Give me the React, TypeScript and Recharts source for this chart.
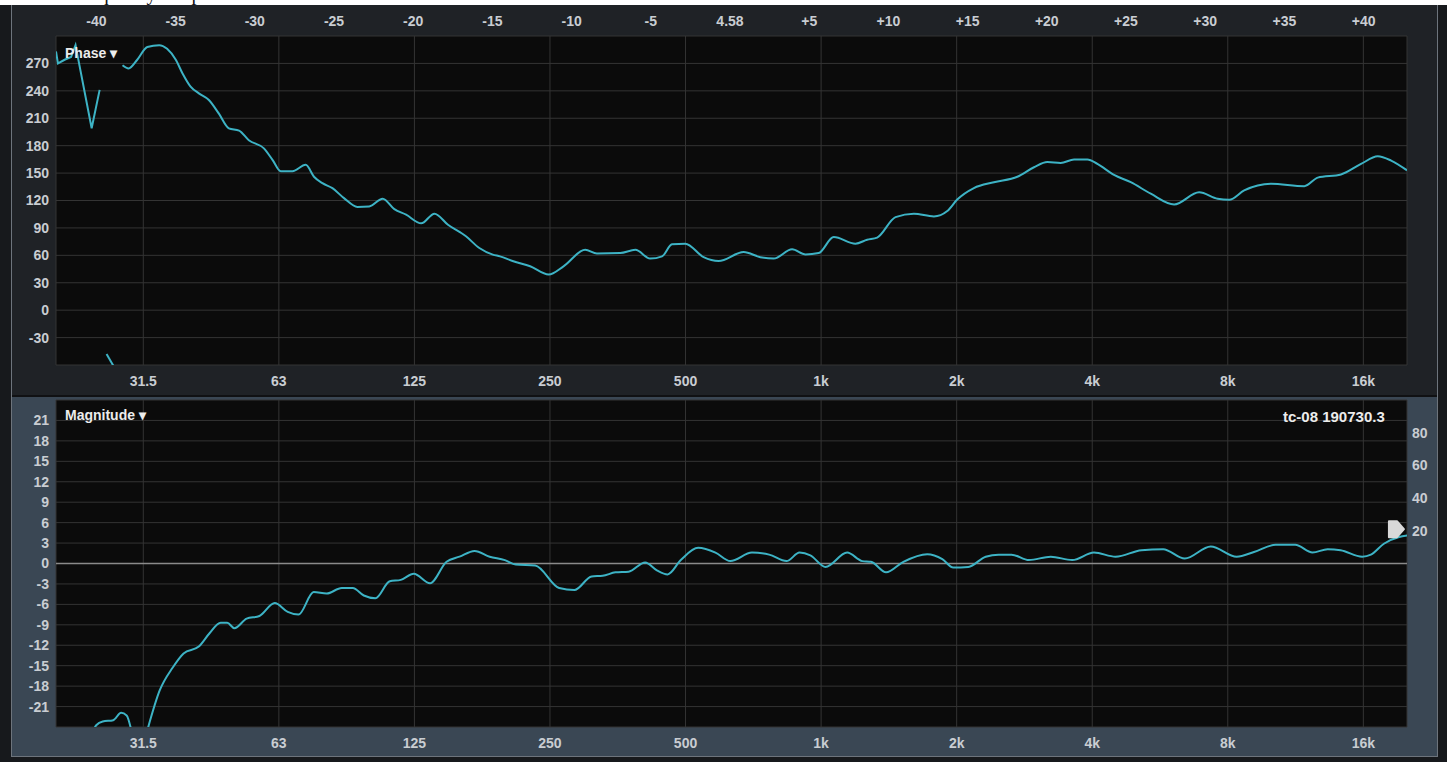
import { CartesianGrid, Line, LineChart, ReferenceDot, ReferenceLine, XAxis, YAxis } from 'recharts';

// frequency axis (log, octaves)
const freqTicks = [31.25, 62.5, 125, 250, 500, 1000, 2000, 4000, 8000, 16000];
const freqLabels = ['31.5', '63', '125', '250', '500', '1k', '2k', '4k', '8k', '16k'];

// delay strip on top of the phase view
const delayTicks = [-40, -35, -30, -25, -20, -15, -10, -5, 0, 5, 10, 15, 20, 25, 30, 35, 40];
const delayCenter = '4.58';
const delayDomain = [-42.55, 42.74];

const phaseTicks = [270, 240, 210, 180, 150, 120, 90, 60, 30, 0, -30];
const magTicks = [21, 18, 15, 12, 9, 6, 3, 0, -3, -6, -9, -12, -15, -18, -21];
const cohTicks = [20, 40, 60, 80];

// phase trace (deg), split where it wraps
const phaseLowHz = [20, 20.2, 20.9, 21.6, 22.1, 24.0, 25.0];
const phaseLowDeg = [283, 270, 274, 277, 290, 199, 241];

const phaseWrapHz = [25.9, 26.9];
const phaseWrapDeg = [-48, -62];

const phaseMainHz = [
  28.1, 29.0, 30.3, 31.9, 33.9, 35.3, 36.9, 38.2, 39.8, 41.6, 43.7, 46.0, 48.4, 51.0, 53.6, 57.9, 60.5,
  63.1, 67.0, 71.7, 74.8, 78.1, 82.2, 87.2, 93.4, 99.2, 106.3, 112.8, 119.8, 129.4, 138.5, 148.4, 162.7,
  174.2, 186.6, 193.6, 207.3, 225.9, 248.3, 267.9, 299.3, 317.8, 357.9, 386.9, 417.4, 443.4, 466.5,
  499.3, 548.4, 592, 673, 732.9, 784.5, 862.2, 922.8, 987.6, 1066.6, 1191.8, 1265.3, 1332, 1463, 1606.7,
  1780, 1906.5, 2005.5, 2184, 2420, 2728, 2970, 3180, 3404, 3645, 3904, 4107, 4472, 4871, 5396, 6081,
  6910, 7594, 8058, 8699, 9973, 11830, 12670, 14270, 15810, 17220, 18440, 20000,
];
const phaseMainDeg = [
  268, 264.5, 274, 288, 290, 286, 274, 259, 244.6, 237, 230, 215, 199, 196.5, 186, 177, 164.5,
  152, 152, 159, 146, 139, 133.5, 122.6, 113, 113.5, 122, 110.6, 104.5, 95, 105.6, 93.5, 80.8,
  68, 60.8, 58.9, 53.5, 48, 39, 48, 66, 62, 62.5, 66, 56.4, 58.9, 72,
  72.8, 58, 53.8, 63.6, 58, 56.4, 66.6, 61, 62.5, 80, 72.8, 77, 79.4, 101.8, 105.6,
  102.6, 108.5, 121, 133.6, 140, 146, 156.4, 162, 161, 164.8, 164.8, 160, 148, 140, 127.4, 115.7,
  129, 121.9, 120.8, 131, 138.3, 135.7, 145, 148.5, 160, 168.4, 163.7, 153,
];

// magnitude trace (dB)
const magLowHz = [24.0, 24.6, 25.4, 26.8, 27.9, 28.7, 29.4];
const magLowDb = [-25, -23.7, -23.2, -23.0, -21.9, -22.3, -24.5];

const magMainHz = [
  31.9, 34.0, 36.3, 38.4, 41.5, 43.9, 46.4, 48.0, 49.8, 53.0, 56.6, 61.2, 65.4, 69.1, 74.7, 79.8, 86.2,
  91.2, 96.5, 102.4, 110.2, 116.6, 124.6, 135.4, 147.3, 157.4, 170.0, 183.7, 198.5, 209.8, 231.8, 262.0,
  283.2, 309.3, 327.3, 349.5, 373.7, 406.8, 431.8, 456.2, 488.0, 533.3, 582.7, 628.7, 702.3, 766.9, 838.0,
  895.6, 946.7, 1022.8, 1142.4, 1234.6, 1290.4, 1393.7, 1523, 1720.5, 1858.4, 1965.6, 2123, 2320, 2479,
  2648, 2894, 3235, 3611, 4036, 4507, 5145, 5747, 6419, 7332, 8373, 9147, 10218, 11291, 12337, 13327,
  14241, 15910, 16630, 17770, 19210, 20000,
];
const magMainDb = [
  -24.5, -18.6, -15.3, -13.2, -12.2, -10.2, -8.7, -8.7, -9.5, -8.1, -7.7, -5.8, -7.1, -7.5, -4.2, -4.4, -3.6,
  -3.6, -4.7, -5.1, -2.6, -2.4, -1.5, -2.9, 0.25, 1.0, 1.85, 1.0, 0.5, -0.15, -0.3, -3.6,
  -3.9, -1.9, -1.8, -1.3, -1.2, 0.15, -1.0, -1.6, 0.5, 2.3, 1.6, 0.35, 1.6, 1.3, 0.35,
  1.6, 1.2, -0.5, 1.6, 0.35, 0.25, -1.3, 0.25, 1.36, 0.64, -0.6, -0.5, 1.0, 1.3,
  1.3, 0.5, 1.0, 0.5, 1.6, 1.0, 1.95, 2.1, 0.73, 2.5, 1.0, 1.7, 2.76, 2.76, 1.6, 2.1,
  1.95, 1.0, 1.3, 2.9, 3.9, 4.1,
];

const markerHz = 18900;
const markerCoh = 21;

const zip = (hz: number[], vals: number[]) => hz.map((f, i) => ({ f, v: vals[i] }));

const phaseLow = zip(phaseLowHz, phaseLowDeg);
const phaseWrap = zip(phaseWrapHz, phaseWrapDeg);
const phaseMain = zip(phaseMainHz, phaseMainDeg);
const magLow = zip(magLowHz, magLowDb);
const magMain = zip(magMainHz, magMainDb);

// empty rows so the delay and coherence axes have something bound to them
const delayRows = delayTicks.map((d) => ({ d, v: null }));
const cohRows = [{ f: markerHz, c: null }];

const TRACE = '#3db3c5';
const GRID = '#343434';
const PLOT_BG = '#0b0b0b';
const TICK = { fill: '#c9cdd2', fontSize: 14, fontWeight: 700, fontFamily: 'Liberation Sans, Arial, sans-serif' };

const formatFreq = (v: number) => {
  const i = freqTicks.indexOf(v);
  return i >= 0 ? freqLabels[i] : String(v);
};

const formatDelay = (v: number) => (v === 0 ? delayCenter : v > 0 ? `+${v}` : String(v));

function Marker(props: { cx?: number; cy?: number }) {
  const { cx = 0, cy = 0 } = props;
  const pts = [
    [cx - 7, cy - 8],
    [cx + 1, cy - 8],
    [cx + 8, cy],
    [cx + 1, cy + 8],
    [cx - 7, cy + 8],
  ]
    .map((p) => p.join(','))
    .join(' ');
  return <polygon points={pts} fill="#d9d9d9" stroke="#d9d9d9" strokeLinejoin="round" strokeWidth={2} />;
}

const labelStyle = {
  position: 'absolute' as const,
  color: '#ececec',
  fontFamily: 'Liberation Sans, Arial, sans-serif',
  fontWeight: 700,
  fontSize: 14,
  lineHeight: '16px',
  whiteSpace: 'nowrap' as const,
};

export default function App() {
  return (
    <div
      style={{
        position: 'absolute',
        left: 0,
        top: 0,
        width: 1447,
        height: 762,
        overflow: 'hidden',
        background: '#17191c',
      }}
    >
      {/* cut-off page title strip */}
      <div style={{ position: 'absolute', left: 0, top: 0, width: 1447, height: 5, background: '#fff', overflow: 'hidden' }}>
        <span style={{ position: 'absolute', left: 72, top: -17, fontSize: 20, lineHeight: '20px', color: '#111', fontFamily: 'Liberation Serif, serif', whiteSpace: 'nowrap' }}>
          Frequency Response
        </span>
      </div>

      {/* panel frames */}
      <div style={{ position: 'absolute', left: 11, top: 5, width: 1425, height: 750, border: '1px solid #6d747c' }} />
      <div style={{ position: 'absolute', left: 12, top: 5, width: 1425, height: 390, background: '#1f2226' }} />
      <div style={{ position: 'absolute', left: 12, top: 395, width: 1425, height: 2, background: '#101113' }} />
      <div style={{ position: 'absolute', left: 12, top: 397, width: 1425, height: 359, background: '#3a4754' }} />

      {/* phase */}
      <div style={{ position: 'absolute', left: 0, top: 0 }}>
        <LineChart width={1447} height={400} margin={{ top: 0, right: 40, bottom: 0, left: 0 }}>
          <CartesianGrid stroke={GRID} fill={PLOT_BG} />
          <XAxis
            dataKey="f"
            type="number"
            scale="log"
            domain={[20, 20000]}
            ticks={freqTicks}
            interval={0}
            allowDataOverflow
            tickFormatter={formatFreq}
            tick={TICK}
            tickSize={0}
            tickMargin={11}
            axisLine={false}
            tickLine={false}
            height={35}
          />
          <XAxis
            xAxisId="delay"
            dataKey="d"
            orientation="top"
            type="number"
            domain={delayDomain}
            ticks={delayTicks}
            interval={0}
            allowDataOverflow
            tickFormatter={formatDelay}
            tick={TICK}
            tickSize={0}
            tickMargin={10}
            axisLine={false}
            tickLine={false}
            height={36}
          />
          <YAxis
            type="number"
            domain={[-60, 300]}
            ticks={phaseTicks}
            interval={0}
            allowDataOverflow
            tick={TICK}
            tickSize={0}
            tickMargin={7}
            axisLine={false}
            tickLine={false}
            width={56}
          />
          <Line xAxisId="delay" data={delayRows} dataKey="v" stroke="none" dot={false} legendType="none" isAnimationActive={false} />
          <Line data={phaseLow} dataKey="v" type="linear" stroke={TRACE} strokeWidth={2} dot={false} isAnimationActive={false} />
          <Line data={phaseWrap} dataKey="v" type="linear" stroke={TRACE} strokeWidth={2} dot={false} isAnimationActive={false} />
          <Line data={phaseMain} dataKey="v" type="monotone" stroke={TRACE} strokeWidth={2} dot={false} isAnimationActive={false} />
        </LineChart>
      </div>

      {/* magnitude */}
      <div style={{ position: 'absolute', left: 0, top: 397 }}>
        <LineChart width={1447} height={365} margin={{ top: 3, right: 0, bottom: 0, left: 0 }}>
          <CartesianGrid stroke={GRID} fill={PLOT_BG} />
          <XAxis
            dataKey="f"
            type="number"
            scale="log"
            domain={[20, 20000]}
            ticks={freqTicks}
            interval={0}
            allowDataOverflow
            tickFormatter={formatFreq}
            tick={TICK}
            tickSize={0}
            tickMargin={11}
            axisLine={false}
            tickLine={false}
            height={35}
          />
          <YAxis
            type="number"
            domain={[-24, 24]}
            ticks={magTicks}
            interval={0}
            allowDataOverflow
            tick={TICK}
            tickSize={0}
            tickMargin={7}
            axisLine={false}
            tickLine={false}
            width={56}
          />
          <YAxis
            yAxisId="coh"
            orientation="right"
            type="number"
            domain={[-100, 100]}
            ticks={cohTicks}
            interval={0}
            allowDataOverflow
            tick={TICK}
            tickSize={0}
            tickMargin={5}
            axisLine={false}
            tickLine={false}
            width={40}
          />
          <ReferenceLine y={0} stroke="#8a8a8a" strokeWidth={1.5} />
          <Line yAxisId="coh" data={cohRows} dataKey="c" stroke="none" dot={false} legendType="none" isAnimationActive={false} />
          <Line data={magLow} dataKey="v" type="monotone" stroke={TRACE} strokeWidth={2} dot={false} isAnimationActive={false} />
          <Line data={magMain} dataKey="v" type="monotone" stroke={TRACE} strokeWidth={2} dot={false} isAnimationActive={false} />
          <ReferenceDot x={markerHz} y={markerCoh} yAxisId="coh" shape={<Marker />} />
        </LineChart>
      </div>

      {/* in-plot labels */}
      <div style={{ ...labelStyle, left: 65, top: 45 }}>Phase ▾</div>
      <div style={{ ...labelStyle, left: 65, top: 407 }}>Magnitude ▾</div>
      <div style={{ ...labelStyle, left: 1283, top: 409, fontSize: 15 }}>tc-08 190730.3</div>
    </div>
  );
}
